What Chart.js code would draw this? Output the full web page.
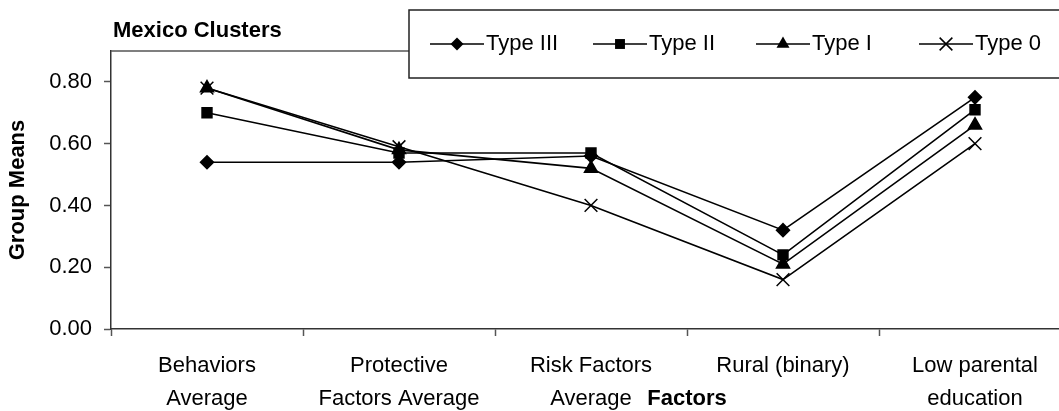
<!DOCTYPE html>
<html>
<head>
<meta charset="utf-8">
<script src="https://cdn.jsdelivr.net/npm/chart.js"></script>
<style>
  html, body { margin: 0; padding: 0; background: #fff; overflow: hidden; }
  #wrap { width: 1090px; height: 411px; }
</style>
</head>
<body>
<div id="wrap"><canvas id="chart" width="1090" height="411"></canvas></div>
<script>
// data
const categories = [
    ["Behaviors", "Average"],
    ["Protective", "Factors Average"],
    ["Risk Factors", "Average"],
    ["Rural (binary)"],
    ["Low parental", "education"]
];
const typeIII = [0.54, 0.54, 0.56, 0.32, 0.75];
const typeII  = [0.70, 0.57, 0.57, 0.24, 0.71];
const typeI   = [0.78, 0.58, 0.52, 0.21, 0.66];
const type0   = [0.78, 0.59, 0.40, 0.16, 0.60];
const yTicks  = [0, 0.2, 0.4, 0.6, 0.8];

const FONT = 'Arial, "Liberation Sans", sans-serif';

function series(label, values, style, radius) {
    return {
        label: label,
        data: values,
        borderColor: '#000',
        backgroundColor: '#000',
        borderWidth: 1.6,
        pointStyle: style,
        pointRadius: radius,
        pointBorderWidth: 1.5,
        pointBorderColor: '#000',
        pointBackgroundColor: '#000',
        tension: 0
    };
}

// small marker drawer for the hand-drawn legend
function marker(ctx, style, x, y, r) {
    ctx.beginPath();
    if (style === 'rectRot') {
        ctx.moveTo(x, y - r); ctx.lineTo(x + r, y); ctx.lineTo(x, y + r); ctx.lineTo(x - r, y);
        ctx.closePath(); ctx.fill();
    } else if (style === 'rect') {
        const s = r * Math.SQRT1_2;
        ctx.rect(x - s, y - s, 2 * s, 2 * s); ctx.fill();
    } else if (style === 'triangle') {
        ctx.moveTo(x, y - r);
        ctx.lineTo(x + r * 0.866, y + r * 0.5);
        ctx.lineTo(x - r * 0.866, y + r * 0.5);
        ctx.closePath(); ctx.fill();
    } else {
        const s = r * Math.SQRT1_2;
        ctx.moveTo(x - s, y - s); ctx.lineTo(x + s, y + s);
        ctx.moveTo(x + s, y - s); ctx.lineTo(x - s, y + s);
        ctx.stroke();
    }
}

const extras = {
    id: 'extras',
    beforeDatasetsDraw(chart) {
        const ctx = chart.ctx, a = chart.chartArea;
        ctx.save();
        ctx.strokeStyle = '#555';
        ctx.lineWidth = 1.5;
        ctx.beginPath();
        ctx.moveTo(a.left, a.top);
        ctx.lineTo(a.right, a.top);
        ctx.stroke();
        ctx.restore();
    },
    afterDraw(chart) {
        const ctx = chart.ctx, a = chart.chartArea, xs = chart.scales.x;
        ctx.save();
        ctx.fillStyle = '#000';

        // chart title
        ctx.font = 'bold 22px ' + FONT;
        ctx.textAlign = 'left';
        ctx.textBaseline = 'alphabetic';
        ctx.fillText('Mexico Clusters', a.left + 2, 37);

        // x axis title, sits on the second label row
        ctx.textAlign = 'center';
        ctx.textBaseline = 'middle';
        ctx.fillText('Factors', (xs.getPixelForValue(2) + xs.getPixelForValue(3)) / 2, 399);

        // legend box
        ctx.fillStyle = '#fff';
        ctx.fillRect(409, 10, 680, 68);
        ctx.strokeStyle = '#222';
        ctx.lineWidth = 1.5;
        ctx.strokeRect(409, 10, 680, 68);

        ctx.font = '22px ' + FONT;
        ctx.textAlign = 'left';
        ctx.fillStyle = '#000';
        ctx.strokeStyle = '#000';
        chart.data.datasets.forEach((ds, i) => {
            const x0 = 430 + i * 163, y = 44;
            ctx.lineWidth = 1.6;
            ctx.beginPath();
            ctx.moveTo(x0, y); ctx.lineTo(x0 + 54, y);
            ctx.stroke();
            ctx.lineWidth = 1.5;
            marker(ctx, ds.pointStyle, x0 + 27, y, ds.pointRadius);
            ctx.fillText(ds.label, x0 + 56, y);
        });
        ctx.restore();
    }
};

new Chart(document.getElementById('chart'), {
    type: 'line',
    data: {
        labels: categories,
        datasets: [
            series('Type III', typeIII, 'rectRot', 6.5),
            series('Type II', typeII, 'rect', 7),
            series('Type I', typeI, 'triangle', 7.5),
            series('Type 0', type0, 'crossRot', 9)
        ]
    },
    options: {
        responsive: false,
        animation: false,
        layout: { padding: { left: 0, right: 19, top: 51, bottom: 0 } },
        plugins: {
            legend: { display: false },
            title: { display: false },
            tooltip: { enabled: false }
        },
        scales: {
            x: {
                offset: true,
                grid: {
                    offset: true,
                    drawOnChartArea: false,
                    tickLength: 7,
                    color: '#555',
                    tickWidth: 1.5
                },
                border: { color: '#333', width: 1.5 },
                ticks: {
                    color: '#000',
                    padding: 13,
                    maxRotation: 0,
                    autoSkip: false,
                    font: { family: FONT, size: 22, lineHeight: 1.5 }
                },
                afterFit(scale) { scale.height = 82; }
            },
            y: {
                min: 0,
                max: 0.9,
                grid: {
                    drawOnChartArea: false,
                    tickLength: 7,
                    color: '#555',
                    tickWidth: 1.5
                },
                border: { color: '#333', width: 1.5 },
                ticks: {
                    color: '#000',
                    padding: 12,
                    font: { family: FONT, size: 22 },
                    callback: v => v.toFixed(2)
                },
                afterBuildTicks(scale) {
                    scale.ticks = yTicks.map(v => ({ value: v }));
                },
                title: {
                    display: true,
                    text: 'Group Means',
                    color: '#000',
                    font: { family: FONT, size: 22, weight: 'bold' },
                    padding: { top: 5, bottom: 0 }
                },
                afterFit(scale) { scale.width = 111; }
            }
        }
    },
    plugins: [extras]
});
</script>
</body>
</html>
